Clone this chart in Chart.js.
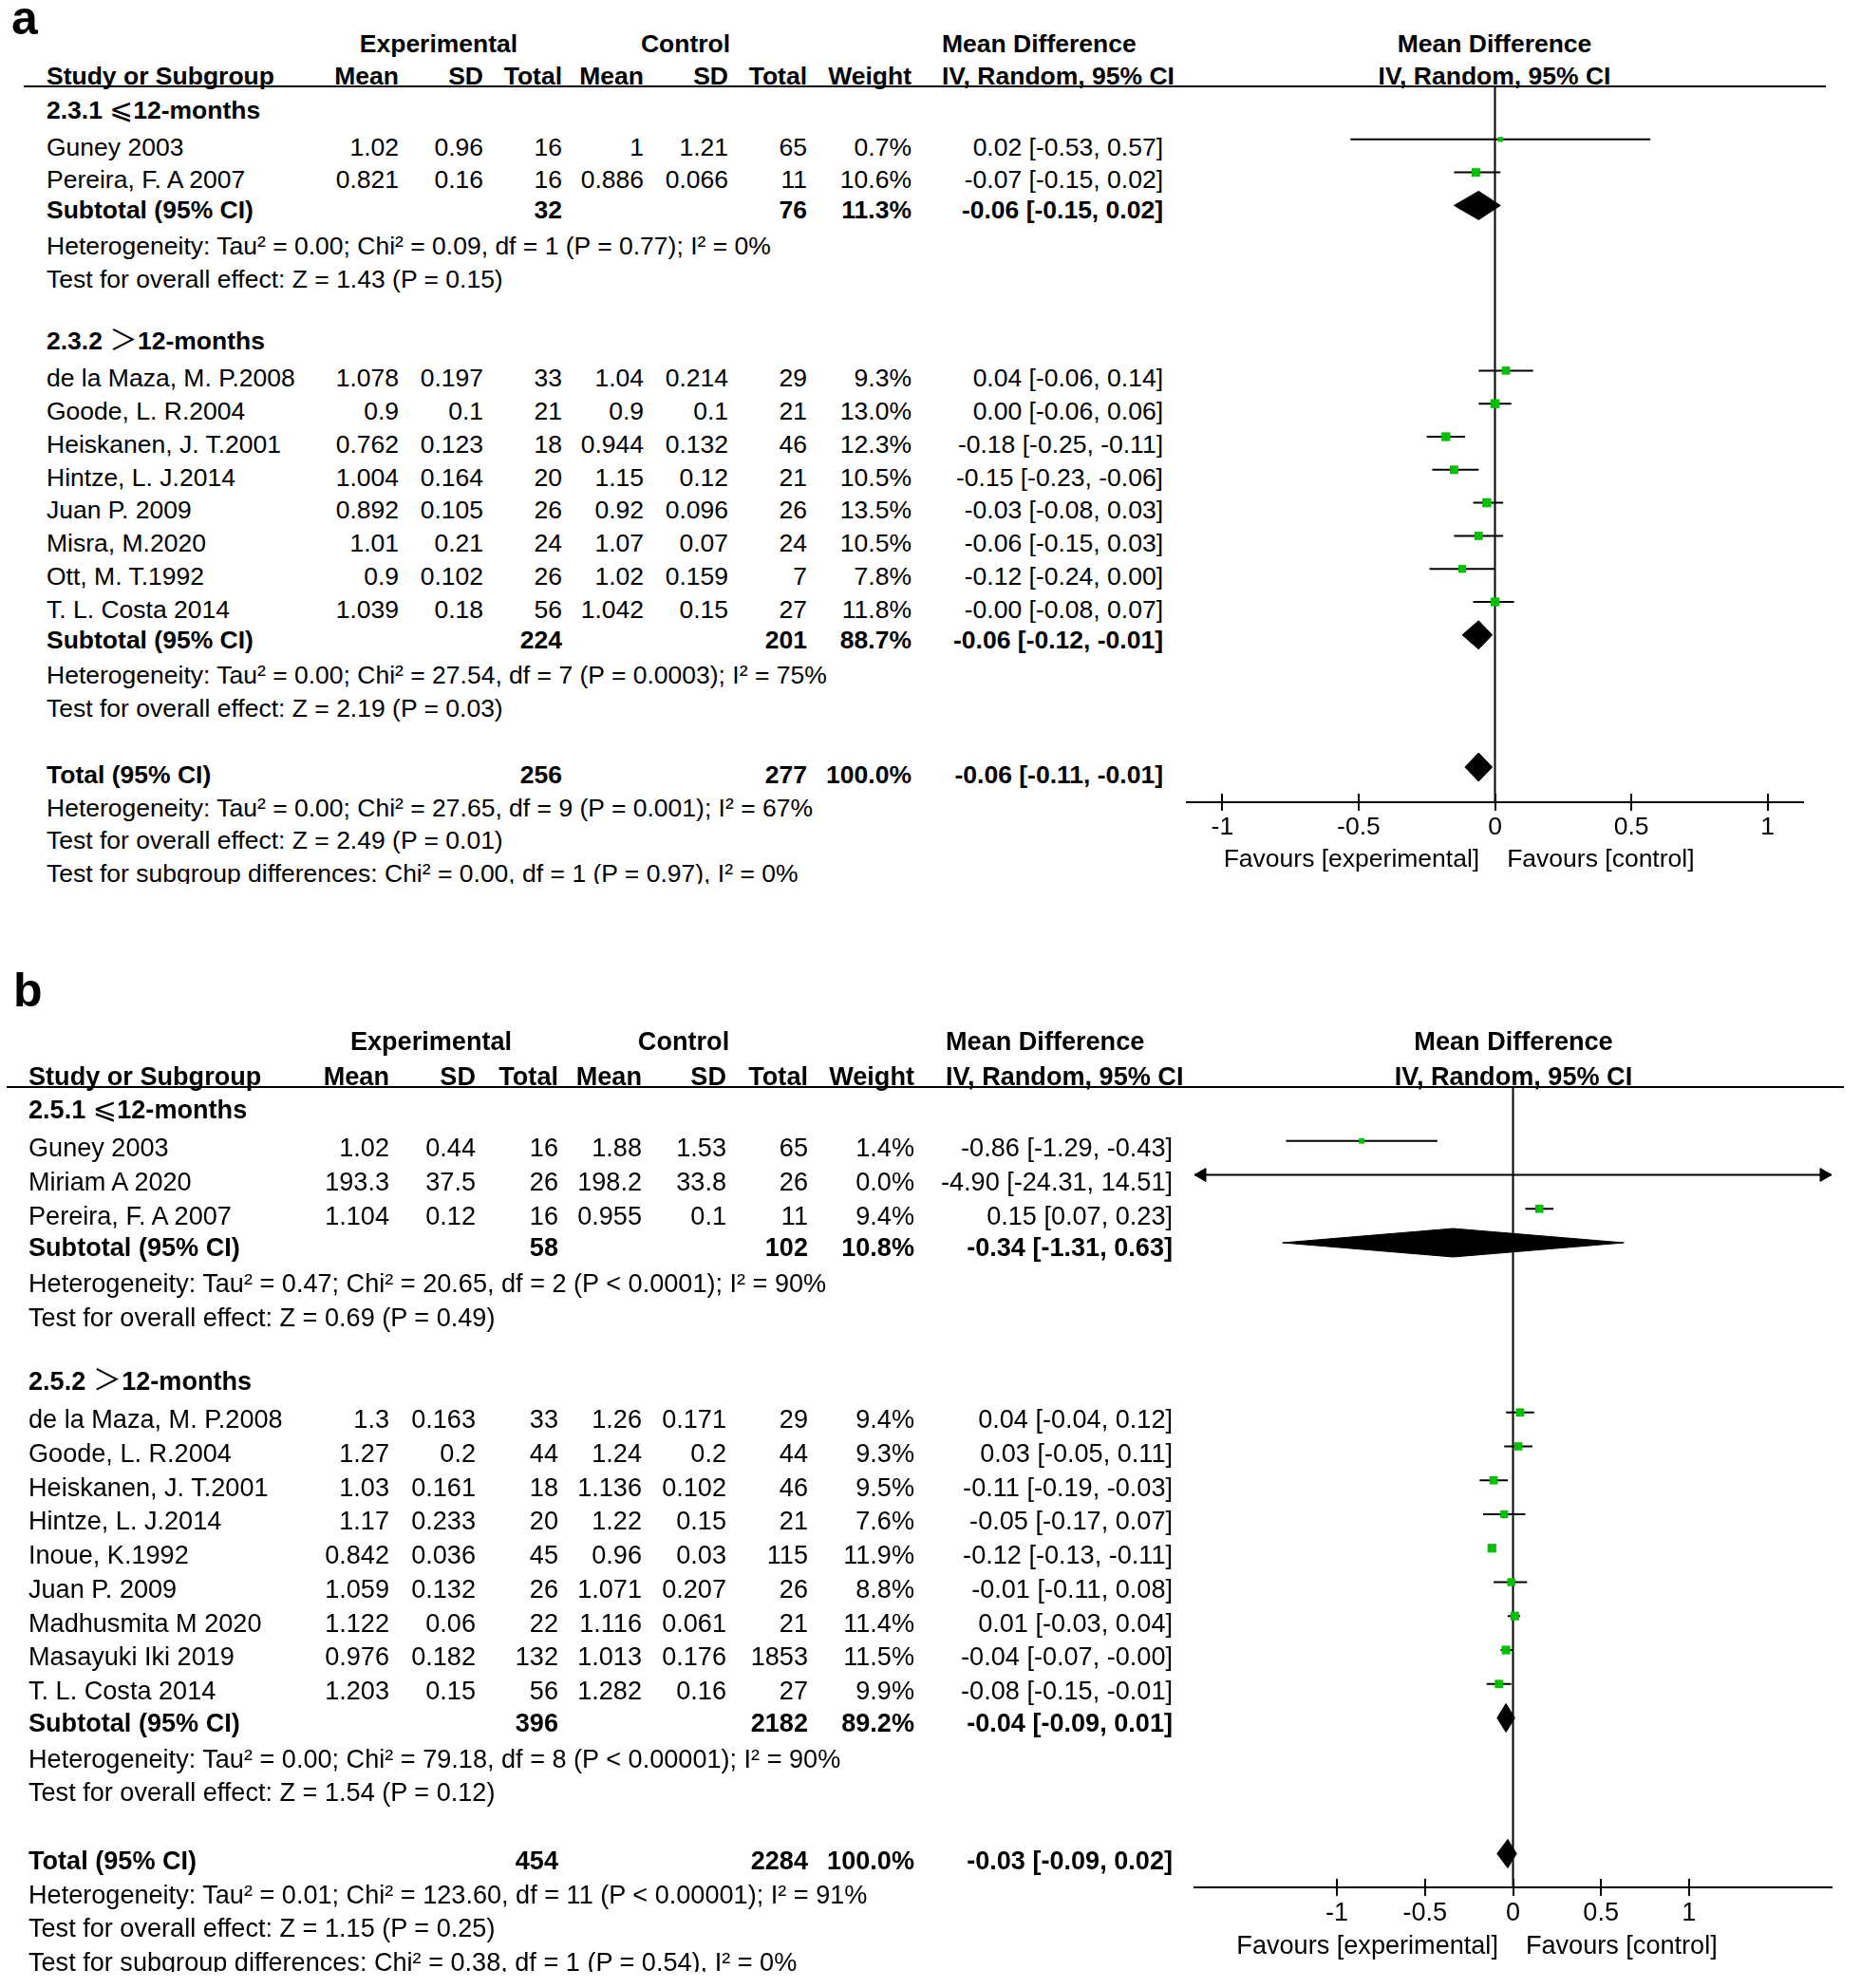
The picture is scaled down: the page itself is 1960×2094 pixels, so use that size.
<!DOCTYPE html>
<html>
<head>
<meta charset="utf-8">
<title>Forest plots</title>
<script src="https://cdn.jsdelivr.net/npm/chart.js@4.4.1/dist/chart.umd.min.js"></script>
<style>
  html, body { margin: 0; padding: 0; background: #fff; }
  body { width: 1960px; height: 2094px; position: relative; overflow: hidden;
         font-family: "Liberation Sans", Arial, sans-serif; color: #000; }
  .clip { position: absolute; left: 0; top: 0; width: 1960px; overflow: hidden; }
  .t { position: absolute; white-space: nowrap; }
  .b { font-weight: bold; }
  .r { transform: translateX(-100%); }
  .c { transform: translateX(-50%); }
  .sym { font-family: "Noto Sans CJK SC", "DejaVu Sans", sans-serif; font-weight: normal; font-size: 1.12em; line-height: 0; }
  .rule { position: absolute; height: 2px; background: #000; }
  canvas { position: absolute; }
</style>
</head>
<body>
<div id="panelA" class="clip"></div>
<div id="panelB" class="clip"></div>
<script>
// ---------- panel a ----------
const aGroups = ['2.3.1 ⩽12-months', '2.3.2 ＞12-months'];
const aGroupSize = [2, 8];
const aStudy = ['Guney 2003', 'Pereira, F. A 2007', 'de la Maza, M. P.2008', 'Goode, L. R.2004',
  'Heiskanen, J. T.2001', 'Hintze, L. J.2014', 'Juan P. 2009', 'Misra, M.2020', 'Ott, M. T.1992', 'T. L. Costa 2014'];
const aExpMean = [1.02, 0.821, 1.078, 0.9, 0.762, 1.004, 0.892, 1.01, 0.9, 1.039];
const aExpSD = [0.96, 0.16, 0.197, 0.1, 0.123, 0.164, 0.105, 0.21, 0.102, 0.18];
const aExpN = [16, 16, 33, 21, 18, 20, 26, 24, 26, 56];
const aCtrlMean = [1, 0.886, 1.04, 0.9, 0.944, 1.15, 0.92, 1.07, 1.02, 1.042];
const aCtrlSD = [1.21, 0.066, 0.214, 0.1, 0.132, 0.12, 0.096, 0.07, 0.159, 0.15];
const aCtrlN = [65, 11, 29, 21, 46, 21, 26, 24, 7, 27];
const aWeight = [0.7, 10.6, 9.3, 13.0, 12.3, 10.5, 13.5, 10.5, 7.8, 11.8];
const aMD = [0.02, -0.07, 0.04, 0.00, -0.18, -0.15, -0.03, -0.06, -0.12, -0];
const aLo = [-0.53, -0.15, -0.06, -0.06, -0.25, -0.23, -0.08, -0.15, -0.24, -0.08];
const aHi = [0.57, 0.02, 0.14, 0.06, -0.11, -0.06, 0.03, 0.03, 0.00, 0.07];
const aSubExpN = [32, 224];
const aSubCtrlN = [76, 201];
const aSubWeight = [11.3, 88.7];
const aSubMD = [-0.06, -0.06];
const aSubLo = [-0.15, -0.12];
const aSubHi = [0.02, -0.01];
const aTotalN = [256, 277];
const aTotalEffect = [-0.06, -0.11, -0.01];
const aHet = [
  'Heterogeneity: Tau² = 0.00; Chi² = 0.09, df = 1 (P = 0.77); I² = 0%',
  'Heterogeneity: Tau² = 0.00; Chi² = 27.54, df = 7 (P = 0.0003); I² = 75%',
  'Heterogeneity: Tau² = 0.00; Chi² = 27.65, df = 9 (P = 0.001); I² = 67%'];
const aTest = [
  'Test for overall effect: Z = 1.43 (P = 0.15)',
  'Test for overall effect: Z = 2.19 (P = 0.03)',
  'Test for overall effect: Z = 2.49 (P = 0.01)'];
const aDiff = 'Test for subgroup differences: Chi² = 0.00, df = 1 (P = 0.97), I² = 0%';

// ---------- panel b ----------
const bGroups = ['2.5.1 ⩽12-months', '2.5.2 ＞12-months'];
const bGroupSize = [3, 9];
const bStudy = ['Guney 2003', 'Miriam A 2020', 'Pereira, F. A 2007', 'de la Maza, M. P.2008', 'Goode, L. R.2004',
  'Heiskanen, J. T.2001', 'Hintze, L. J.2014', 'Inoue, K.1992', 'Juan P. 2009', 'Madhusmita M 2020',
  'Masayuki Iki 2019', 'T. L. Costa 2014'];
const bExpMean = [1.02, 193.3, 1.104, 1.3, 1.27, 1.03, 1.17, 0.842, 1.059, 1.122, 0.976, 1.203];
const bExpSD = [0.44, 37.5, 0.12, 0.163, 0.2, 0.161, 0.233, 0.036, 0.132, 0.06, 0.182, 0.15];
const bExpN = [16, 26, 16, 33, 44, 18, 20, 45, 26, 22, 132, 56];
const bCtrlMean = [1.88, 198.2, 0.955, 1.26, 1.24, 1.136, 1.22, 0.96, 1.071, 1.116, 1.013, 1.282];
const bCtrlSD = [1.53, 33.8, 0.1, 0.171, 0.2, 0.102, 0.15, 0.03, 0.207, 0.061, 0.176, 0.16];
const bCtrlN = [65, 26, 11, 29, 44, 46, 21, 115, 26, 21, 1853, 27];
const bWeight = [1.4, 0.0, 9.4, 9.4, 9.3, 9.5, 7.6, 11.9, 8.8, 11.4, 11.5, 9.9];
const bMD = [-0.86, -4.90, 0.15, 0.04, 0.03, -0.11, -0.05, -0.12, -0.01, 0.01, -0.04, -0.08];
const bLo = [-1.29, -24.31, 0.07, -0.04, -0.05, -0.19, -0.17, -0.13, -0.11, -0.03, -0.07, -0.15];
const bHi = [-0.43, 14.51, 0.23, 0.12, 0.11, -0.03, 0.07, -0.11, 0.08, 0.04, -0, -0.01];
const bSubExpN = [58, 396];
const bSubCtrlN = [102, 2182];
const bSubWeight = [10.8, 89.2];
const bSubMD = [-0.34, -0.04];
const bSubLo = [-1.31, -0.09];
const bSubHi = [0.63, 0.01];
const bTotalN = [454, 2284];
const bTotalEffect = [-0.03, -0.09, 0.02];
const bHet = [
  'Heterogeneity: Tau² = 0.47; Chi² = 20.65, df = 2 (P &lt; 0.0001); I² = 90%',
  'Heterogeneity: Tau² = 0.00; Chi² = 79.18, df = 8 (P &lt; 0.00001); I² = 90%',
  'Heterogeneity: Tau² = 0.01; Chi² = 123.60, df = 11 (P &lt; 0.00001); I² = 91%'];
const bTest = [
  'Test for overall effect: Z = 0.69 (P = 0.49)',
  'Test for overall effect: Z = 1.54 (P = 0.12)',
  'Test for overall effect: Z = 1.15 (P = 0.25)'];
const bDiff = 'Test for subgroup differences: Chi² = 0.38, df = 1 (P = 0.54), I² = 0%';

const axisTicks = [-1, -0.5, 0, 0.5, 1];
const colHeads = ['Mean', 'SD', 'Total', 'Mean', 'SD', 'Total', 'Weight'];

// ---------- layout ----------
const GREEN = '#00c000';
const FONT = '"Liberation Sans", Arial, sans-serif';
const AX_H = 80, PAD = 20;
// row0/pitch place the marks; text sits textDy lower (as in the source figure)
const LAYOUT_A = { label: 'a', labelX: 12, labelBase: 36, fs: 26.5,
  head1Y: 46, head2Y: 80, ruleY: 91, ruleX0: 25, ruleX1: 1923,
  row0: 112, pitch: 34.8, textDy: 8, groupDy: -4, subDy: -3, nameX: 49,
  cols: [420, 509, 592, 678, 767, 850, 960, 1225], ciHeadX: 992, expX: 462, ctrlX: 722,
  zeroX: 1574, unit: 287, xRange: 1.13, axisY: 845, favDy: 59 };
const LAYOUT_B = { label: 'b', labelX: 14, labelBase: 1060, fs: 27.1,
  head1Y: 1097, head2Y: 1134, ruleY: 1145, ruleX0: 7, ruleX1: 1942,
  row0: 1166, pitch: 35.75, textDy: 7, groupDy: -4, subDy: -2, nameX: 30,
  cols: [410, 501, 588, 676, 765, 851, 963, 1235], ciHeadX: 996, expX: 454, ctrlX: 720,
  zeroX: 1594, unit: 185.4, xRange: 1.81, axisY: 1988, favDy: 61 };

function fmt2(v) { return (v < 0 || Object.is(v, -0) ? '-' : '') + Math.abs(v).toFixed(2); }
function fmtCI(md, lo, hi) { return fmt2(md) + ' [' + fmt2(lo) + ', ' + fmt2(hi) + ']'; }
function fmtW(w) { return w.toFixed(1) + '%'; }

function put(box, html, x, y, fs, opt) {
  opt = opt || {};
  const d = document.createElement('div');
  d.className = 't' + (opt.bold ? ' b' : '') + (opt.align === 'right' ? ' r' : opt.align === 'center' ? ' c' : '');
  d.style.left = x + 'px';
  d.style.top = (y - fs / 2) + 'px';
  d.style.fontSize = fs + 'px';
  d.style.lineHeight = fs + 'px';
  d.innerHTML = html;
  box.appendChild(d);
}

const tickCross = {
  id: 'tickCross',
  afterDraw(chart) {
    const sx = chart.scales.x, ctx = chart.ctx, yb = chart.chartArea.bottom;
    ctx.save();
    ctx.strokeStyle = '#000';
    ctx.lineWidth = 2;
    sx.ticks.forEach(t => {
      const px = Math.round(sx.getPixelForValue(t.value));
      ctx.beginPath();
      ctx.moveTo(px, yb - 9);
      ctx.lineTo(px, yb + 9);
      ctx.stroke();
    });
    ctx.restore();
  }
};

function drawPanel(box, D, L) {
  const fs = L.fs;

  // panel letter and headers
  put(box, L.label, L.labelX, L.labelBase - 0.3465 * 50, 50, { bold: true });
  put(box, 'Experimental', L.expX, L.head1Y, fs, { bold: true, align: 'center' });
  put(box, 'Control', L.ctrlX, L.head1Y, fs, { bold: true, align: 'center' });
  put(box, 'Mean Difference', L.ciHeadX, L.head1Y, fs, { bold: true });
  put(box, 'Mean Difference', L.zeroX, L.head1Y, fs, { bold: true, align: 'center' });
  put(box, 'Study or Subgroup', L.nameX, L.head2Y, fs, { bold: true });
  colHeads.forEach((h, k) => put(box, h, L.cols[k], L.head2Y, fs, { bold: true, align: 'right' }));
  put(box, 'IV, Random, 95% CI', L.ciHeadX, L.head2Y, fs, { bold: true });
  put(box, 'IV, Random, 95% CI', L.zeroX, L.head2Y, fs, { bold: true, align: 'center' });
  const rule = document.createElement('div');
  rule.className = 'rule';
  rule.style.left = L.ruleX0 + 'px';
  rule.style.width = (L.ruleX1 - L.ruleX0) + 'px';
  rule.style.top = (L.ruleY - 1) + 'px';
  box.appendChild(rule);

  // row list
  const rows = [];
  let s = 0;
  D.groups.forEach((g, gi) => {
    rows.push({ kind: 'group', text: g });
    for (let k = 0; k < D.groupSize[gi]; k++) rows.push({ kind: 'study', i: s++ });
    rows.push({ kind: 'sub', gi: gi });
    rows.push({ kind: 'note', text: D.het[gi] });
    rows.push({ kind: 'note', text: D.test[gi] });
    rows.push({ kind: 'blank' });
  });
  rows.push({ kind: 'total' });
  rows.push({ kind: 'note', text: D.het[D.groups.length] });
  rows.push({ kind: 'note', text: D.test[D.groups.length] });
  rows.push({ kind: 'note', text: D.diff });

  // marks
  const xr = L.xRange;
  const clampX = v => Math.max(-xr, Math.min(xr, v));
  const squares = [], radii = [], ciSets = [], diamonds = [], arrows = [], arrowRot = [];
  const hRows = 15 / L.pitch;
  const arrowR = 8;
  const addDiamond = (md, lo, hi, r) => diamonds.push({
    data: [{ x: lo, y: r }, { x: md, y: r - hRows }, { x: hi, y: r }, { x: md, y: r + hRows }, { x: lo, y: r }],
    showLine: true, fill: 'shape', backgroundColor: '#000', borderColor: '#000', borderWidth: 1, pointRadius: 0
  });
  rows.forEach((row, r) => {
    if (row.kind === 'study') {
      const i = row.i, md = D.md[i], lo = D.lo[i], hi = D.hi[i];
      ciSets.push({ data: [{ x: clampX(lo), y: r }, { x: clampX(hi), y: r }], showLine: true,
        borderColor: '#000', borderWidth: 2, pointRadius: 0 });
      if (lo < -xr) { arrows.push({ x: -xr + arrowR / L.unit, y: r }); arrowRot.push(270); }
      if (hi > xr) { arrows.push({ x: xr - arrowR / L.unit, y: r }); arrowRot.push(90); }
      if (md >= -xr && md <= xr && D.weight[i] > 0) {
        squares.push({ x: md, y: r });
        radii.push((4 + 1.5 * Math.sqrt(D.weight[i])) / Math.SQRT2);
      }
    } else if (row.kind === 'sub') {
      addDiamond(D.subMD[row.gi], D.subLo[row.gi], D.subHi[row.gi], r);
    } else if (row.kind === 'total') {
      addDiamond(D.totalEffect[0], D.totalEffect[1], D.totalEffect[2], r);
    }
  });

  const ymin = (L.ruleY - L.row0) / L.pitch;
  const ymax = (L.axisY - L.row0) / L.pitch;
  const datasets = [
    { data: squares, pointStyle: 'rect', pointRadius: radii, backgroundColor: GREEN, borderWidth: 0, showLine: false },
    { data: arrows, pointStyle: 'triangle', pointRadius: arrowR, pointRotation: arrowRot, backgroundColor: '#000',
      borderColor: '#000', borderWidth: 1, showLine: false, clip: false }
  ].concat(ciSets, diamonds, [
    { data: [{ x: 0, y: ymin }, { x: 0, y: ymax }], showLine: true, borderColor: '#000', borderWidth: 2, pointRadius: 0 }
  ]);

  const axL = L.zeroX - L.unit * xr, axR = L.zeroX + L.unit * xr;
  const cv = document.createElement('canvas');
  const left = axL - PAD;
  cv.width = Math.round(axR - axL + 2 * PAD);
  cv.height = L.axisY - L.ruleY + AX_H;
  cv.style.left = left + 'px';
  cv.style.top = L.ruleY + 'px';
  box.appendChild(cv);

  const chart = new Chart(cv, {
    type: 'scatter',
    data: { datasets: datasets },
    options: {
      responsive: false,
      animation: false,
      events: [],
      layout: { autoPadding: false, padding: { left: PAD, right: PAD, top: 0, bottom: 0 } },
      plugins: { legend: { display: false }, tooltip: { enabled: false } },
      scales: {
        x: {
          type: 'linear', min: -xr, max: xr,
          afterBuildTicks: sc => { sc.ticks = axisTicks.map(v => ({ value: v })); },
          afterFit: sc => { sc.height = AX_H; },
          grid: { display: false, drawTicks: false },
          border: { display: true, color: '#000', width: 2 },
          ticks: { color: '#000', padding: 11, autoSkip: false, maxRotation: 0,
            font: { family: FONT, size: fs }, callback: v => String(v) }
        },
        y: { type: 'linear', reverse: true, min: ymin, max: ymax, display: false }
      }
    },
    plugins: [tickCross]
  });

  // table text on the chart's own rows
  const yOf = r => L.ruleY + chart.scales.y.getPixelForValue(r) + L.textDy;
  const symHtml = t => t.replace(/([⩽＞])/g, '<span class="sym">$1</span>');
  rows.forEach((row, r) => {
    const y = yOf(r);
    if (row.kind === 'group') {
      put(box, symHtml(row.text), L.nameX, y + L.groupDy, fs, { bold: true });
    } else if (row.kind === 'study') {
      const i = row.i;
      put(box, D.study[i], L.nameX, y, fs);
      [D.expMean[i], D.expSD[i], D.expN[i], D.ctrlMean[i], D.ctrlSD[i], D.ctrlN[i]]
        .forEach((v, k) => put(box, String(v), L.cols[k], y, fs, { align: 'right' }));
      put(box, fmtW(D.weight[i]), L.cols[6], y, fs, { align: 'right' });
      put(box, fmtCI(D.md[i], D.lo[i], D.hi[i]), L.cols[7], y, fs, { align: 'right' });
    } else if (row.kind === 'sub') {
      const g = row.gi, ys = y + L.subDy;
      put(box, 'Subtotal (95% CI)', L.nameX, ys, fs, { bold: true });
      put(box, String(D.subExpN[g]), L.cols[2], ys, fs, { bold: true, align: 'right' });
      put(box, String(D.subCtrlN[g]), L.cols[5], ys, fs, { bold: true, align: 'right' });
      put(box, fmtW(D.subWeight[g]), L.cols[6], ys, fs, { bold: true, align: 'right' });
      put(box, fmtCI(D.subMD[g], D.subLo[g], D.subHi[g]), L.cols[7], ys, fs, { bold: true, align: 'right' });
    } else if (row.kind === 'total') {
      put(box, 'Total (95% CI)', L.nameX, y, fs, { bold: true });
      put(box, String(D.totalN[0]), L.cols[2], y, fs, { bold: true, align: 'right' });
      put(box, String(D.totalN[1]), L.cols[5], y, fs, { bold: true, align: 'right' });
      put(box, fmtW(100), L.cols[6], y, fs, { bold: true, align: 'right' });
      put(box, fmtCI(D.totalEffect[0], D.totalEffect[1], D.totalEffect[2]), L.cols[7], y, fs, { bold: true, align: 'right' });
    } else if (row.kind === 'note') {
      put(box, row.text, L.nameX, y, fs);
    }
  });

  // the source figure is cropped right at the baseline of its last line
  box.style.height = Math.round(yOf(rows.length - 1) + 0.358 * fs + 1) + 'px';

  // favours labels beside the zero line
  const zx = left + chart.scales.x.getPixelForValue(0);
  const favY = L.axisY + L.favDy;
  put(box, 'Favours [experimental]', zx - 16, favY, fs, { align: 'right' });
  put(box, 'Favours [control]', zx + 13, favY, fs);
}

drawPanel(document.getElementById('panelA'), {
  groups: aGroups, groupSize: aGroupSize, study: aStudy,
  expMean: aExpMean, expSD: aExpSD, expN: aExpN, ctrlMean: aCtrlMean, ctrlSD: aCtrlSD, ctrlN: aCtrlN,
  weight: aWeight, md: aMD, lo: aLo, hi: aHi,
  subExpN: aSubExpN, subCtrlN: aSubCtrlN, subWeight: aSubWeight, subMD: aSubMD, subLo: aSubLo, subHi: aSubHi,
  totalN: aTotalN, totalEffect: aTotalEffect, het: aHet, test: aTest, diff: aDiff
}, LAYOUT_A);

drawPanel(document.getElementById('panelB'), {
  groups: bGroups, groupSize: bGroupSize, study: bStudy,
  expMean: bExpMean, expSD: bExpSD, expN: bExpN, ctrlMean: bCtrlMean, ctrlSD: bCtrlSD, ctrlN: bCtrlN,
  weight: bWeight, md: bMD, lo: bLo, hi: bHi,
  subExpN: bSubExpN, subCtrlN: bSubCtrlN, subWeight: bSubWeight, subMD: bSubMD, subLo: bSubLo, subHi: bSubHi,
  totalN: bTotalN, totalEffect: bTotalEffect, het: bHet, test: bTest, diff: bDiff
}, LAYOUT_B);
</script>
</body>
</html>
